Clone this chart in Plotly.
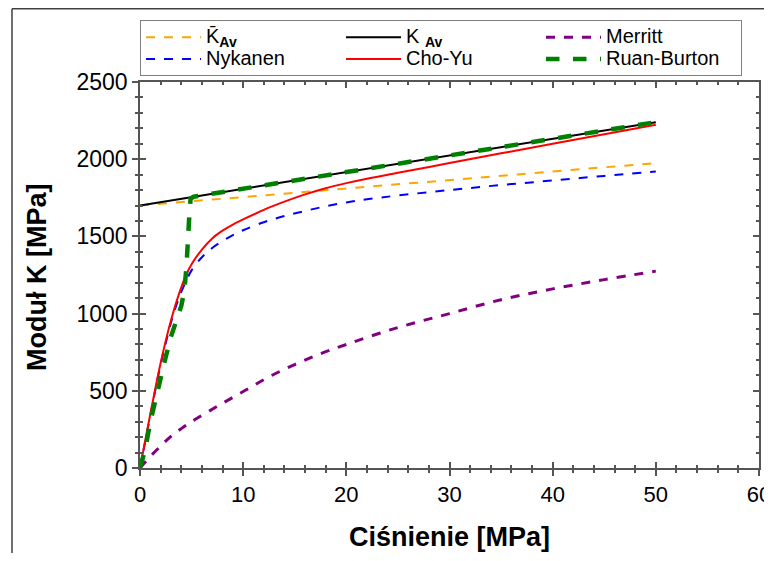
import plotly.graph_objects as go

# ---- data ----
p_lin = [0, 10, 20, 30, 40, 50]
k_av_bar = [1700, 1755, 1810, 1865, 1920, 1975]
k_av = [1700, 1808, 1916, 2024, 2132, 2240]

p_merritt = [0, 1, 2, 3, 4, 5, 7.5, 10, 12.5, 15, 17.5, 20, 25, 30, 35, 40, 45, 50]
k_merritt = [0, 75, 142, 205, 255, 300, 400, 495, 590, 670, 740, 800, 910, 1000, 1090, 1160, 1220, 1275]

p_curve = [0, 0.5, 1, 1.5, 2, 2.5, 3, 3.5, 4, 4.5, 5, 6, 7, 8, 9, 10, 12, 14, 16, 18, 20, 22, 25, 30, 35, 40, 45, 50]
k_nykanen = [0, 170, 340, 510, 670, 810, 940, 1050, 1140, 1215, 1280, 1365, 1425, 1470, 1508, 1540, 1592, 1632,
             1665, 1695, 1720, 1740, 1765, 1800, 1833, 1862, 1892, 1920]
k_choyu = [0, 175, 350, 520, 680, 825, 955, 1070, 1170, 1255, 1320, 1415, 1487, 1537, 1577, 1610, 1672, 1725,
           1772, 1812, 1845, 1874, 1912, 1975, 2038, 2100, 2162, 2223]

p_ruan = [0, 0.5, 1, 1.5, 2, 2.5, 3, 3.5, 4, 4.3, 4.5, 4.75, 4.9, 5.2, 10, 20, 30, 40, 50]
k_ruan = [0, 120, 300, 450, 590, 720, 850, 950, 1050, 1150, 1300, 1600, 1745, 1757, 1808, 1916, 2024, 2132, 2240]

x_ticks = [0, 10, 20, 30, 40, 50, 60]
y_ticks = [0, 500, 1000, 1500, 2000, 2500]

FONT = "Liberation Sans, Arial, sans-serif"


def lg(label):
    return '<span style="font-size:20px">' + label + "</span>"


fig = go.Figure()
fig.add_trace(go.Scatter(x=p_lin, y=k_av_bar, mode="lines", name=lg("K\u0304<sub><b>Av</b></sub>"),
                         line=dict(color="orange", width=2, dash="dash")))
fig.add_trace(go.Scatter(x=p_lin, y=k_av, mode="lines", name=lg("K <sub><b>Av</b></sub>"),
                         line=dict(color="black", width=2)))
fig.add_trace(go.Scatter(x=p_merritt, y=k_merritt, mode="lines", name=lg("Merritt"), line_shape="spline",
                         line=dict(color="#800080", width=3, dash="dash")))
fig.add_trace(go.Scatter(x=p_curve, y=k_nykanen, mode="lines", name=lg("Nykanen"), line_shape="spline",
                         line=dict(color="blue", width=2, dash="dash")))
fig.add_trace(go.Scatter(x=p_curve, y=k_choyu, mode="lines", name=lg("Cho-Yu"), line_shape="spline",
                         line=dict(color="red", width=2)))
fig.add_trace(go.Scatter(x=p_ruan, y=k_ruan, mode="lines", name=lg("Ruan-Burton"),
                         line=dict(color="green", width=4.5, dash="dash")))
# helper trace for the overlay axes carrying the inner ticks
fig.add_trace(go.Scatter(x=[None], y=[None], xaxis="x2", yaxis="y2", showlegend=False, hoverinfo="skip"))

axis_col = "#555555"
common = dict(showgrid=False, zeroline=False, showline=True, linecolor=axis_col, linewidth=1.5,
              tickcolor=axis_col, tickwidth=1.5, automargin=False)

fig.update_layout(
    width=764, height=545,
    margin=dict(l=132, r=13, t=74, b=85),
    paper_bgcolor="white", plot_bgcolor="white",
    font=dict(family=FONT, color="black"),
    xaxis=dict(range=[0, 60], tickvals=x_ticks, ticks="outside", ticklen=6,
               minor=dict(dtick=2, ticks="outside", ticklen=3, tickcolor=axis_col),
               tickfont=dict(size=22, family=FONT), **common),
    yaxis=dict(range=[0, 2500], tickvals=y_ticks, ticks="outside", ticklen=6,
               minor=dict(dtick=100, ticks="outside", ticklen=3, tickcolor=axis_col),
               tickfont=dict(size=23, family=FONT), **common),
    xaxis2=dict(range=[0, 60], overlaying="x", side="top", tickvals=x_ticks, ticks="inside", ticklen=6,
                mirror="allticks", showticklabels=False,
                minor=dict(dtick=2, ticks="inside", ticklen=3, tickcolor=axis_col), **common),
    yaxis2=dict(range=[0, 2500], overlaying="y", side="right", tickvals=y_ticks, ticks="inside", ticklen=6,
                mirror="allticks", showticklabels=False,
                minor=dict(dtick=100, ticks="inside", ticklen=3, tickcolor=axis_col), **common),
    showlegend=True,
    legend=dict(orientation="h", x=0, xanchor="left", y=1.16, yanchor="top",
                bordercolor="#808080", borderwidth=1, bgcolor="white",
                font=dict(size=14.5, family=FONT), entrywidth=130, entrywidthmode="pixels",
                itemwidth=55, tracegroupgap=0, traceorder="normal"),
    annotations=[
        dict(text="<b>Ciśnienie [MPa]</b>", xref="paper", yref="paper", x=0.5, y=-0.178,
             xanchor="center", yanchor="middle", showarrow=False, font=dict(size=27, family=FONT)),
        dict(text="<b>Moduł K [MPa]</b>", xref="paper", yref="paper", x=-0.1664, y=0.495,
             xanchor="center", yanchor="middle", showarrow=False, textangle=-90,
             font=dict(size=27, family=FONT)),
    ],
    shapes=[
        dict(type="line", xref="paper", yref="paper", x0=-0.2068, x1=1.05, y0=1.1895, y1=1.1895,
             line=dict(color="#404040", width=1.5)),
        dict(type="line", xref="paper", yref="paper", x0=-0.2068, x1=-0.2068, y0=1.1895, y1=-0.3,
             line=dict(color="#404040", width=1.5)),
    ],
)

fig.write_html("out.html")
